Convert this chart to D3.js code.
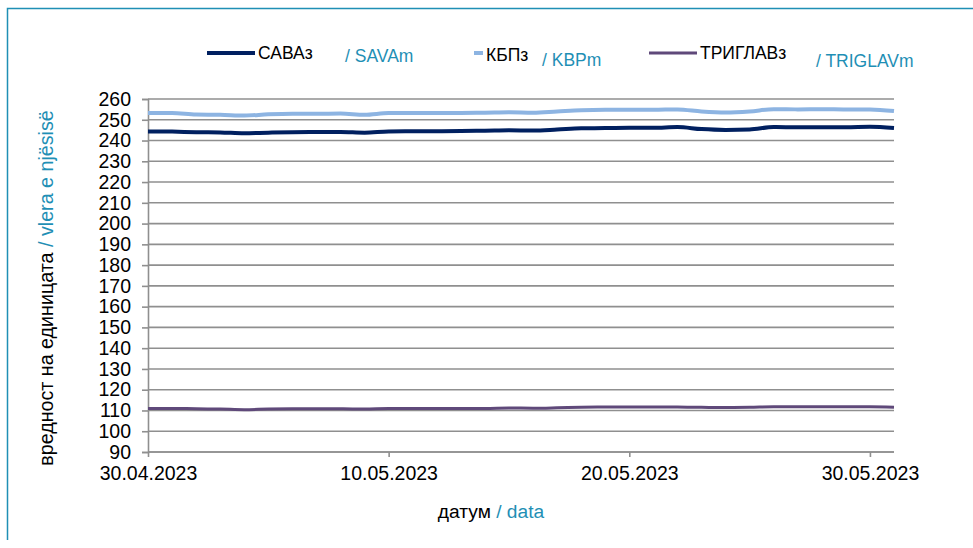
<!DOCTYPE html>
<html>
<head>
<meta charset="utf-8">
<script src="https://cdn.jsdelivr.net/npm/d3@7"></script>
<style>
  html, body { margin: 0; padding: 0; background: #fff; }
  svg { display: block; font-family: "Liberation Sans", Arial, sans-serif; }
</style>
</head>
<body>
<svg id="chart" width="973" height="548"></svg>
<script>
// ---- data ----
const dates = ["2023-04-30","2023-05-01","2023-05-02","2023-05-03","2023-05-04","2023-05-05","2023-05-06","2023-05-07",
  "2023-05-08","2023-05-09","2023-05-10","2023-05-11","2023-05-12","2023-05-13","2023-05-14","2023-05-15",
  "2023-05-16","2023-05-17","2023-05-18","2023-05-19","2023-05-20","2023-05-21","2023-05-22","2023-05-23",
  "2023-05-24","2023-05-25","2023-05-26","2023-05-27","2023-05-28","2023-05-29","2023-05-30","2023-05-31"];
const sava = [244.4,244.3,244.0,243.9,243.5,243.8,244.0,244.1,244.1,243.8,244.4,244.5,244.5,244.6,244.7,244.9,
  244.8,245.3,245.9,246.0,246.1,246.1,246.5,245.5,245.1,245.3,246.5,246.4,246.4,246.4,246.6,246.0];
const kbp = [253.3,253.3,252.5,252.4,252.0,252.6,252.9,252.9,253.0,252.4,253.2,253.2,253.2,253.3,253.4,253.6,
  253.4,254.0,254.6,254.8,254.8,254.8,255.0,254.0,253.5,254.0,255.1,255.0,255.1,255.0,255.0,254.2];
const triglav = [111.0,111.0,110.8,110.7,110.4,110.7,110.8,110.8,110.8,110.7,110.9,110.9,110.9,111.0,111.0,111.2,
  111.1,111.3,111.6,111.7,111.7,111.7,111.7,111.5,111.4,111.5,111.8,111.8,111.8,111.8,111.8,111.6];
const xTickDates = ["2023-04-30","2023-05-10","2023-05-20","2023-05-30"];
const xTickLabels = ["30.04.2023","10.05.2023","20.05.2023","30.05.2023"];
const yTicks = [90,100,110,120,130,140,150,160,170,180,190,200,210,220,230,240,250,260];
const seriesNames = [["САВАз","/ SAVAm"],["КБПз","/ KBPm"],["ТРИГЛАВз","/ TRIGLAVm"]];
const yTitle = ["вредност на единицата ", "/ vlera e njësisë"];
const xTitle = ["датум ", "/ data"];

// ---- styles ----
const colors = ["#002060", "#8db4e2", "#5f497a"];
const widths = [4, 4, 3];
const teal = "#1f8fb5";
const gridColor = "#8f8f8f";
const axisFont = 19.5;

const svg = d3.select("#chart");
const parse = d3.utcParse("%Y-%m-%d");
const xDates = dates.map(parse);

const plot = {left: 148, right: 894, top: 99, bottom: 452};
const x = d3.scaleUtc().domain([parse("2023-04-30"), parse("2023-05-31")]).range([plot.left, plot.right]);
const y = d3.scaleLinear().domain([90, 260]).range([plot.bottom, plot.top]);

// frame
svg.append("path")
  .attr("d", "M7.5,540 L7.5,8.5 L980,8.5")
  .attr("fill", "none").attr("stroke", teal).attr("stroke-width", 1.5);

// grid lines
svg.append("g").selectAll("line").data(yTicks).join("line")
  .attr("x1", plot.left).attr("x2", plot.right)
  .attr("y1", d => y(d)).attr("y2", d => y(d))
  .attr("stroke", gridColor).attr("stroke-width", 1.6);

// y axis
const yAxis = svg.append("g").attr("transform", `translate(${plot.left},0)`)
  .call(d3.axisLeft(y).tickValues(yTicks).tickSize(6).tickPadding(11).tickFormat(d3.format("d")));
yAxis.select(".domain").attr("stroke", gridColor).attr("stroke-width", 1.6);
yAxis.selectAll(".tick line").attr("stroke", gridColor).attr("stroke-width", 1.6);
yAxis.selectAll(".tick text").attr("font-size", axisFont).attr("fill", "#000").attr("font-family", "Liberation Sans, Arial, sans-serif");

// x axis
const xAxis = svg.append("g").attr("transform", `translate(0,${plot.bottom})`)
  .call(d3.axisBottom(x).tickValues(xTickDates.map(parse)).tickSize(5).tickPadding(9)
    .tickFormat((d, i) => xTickLabels[i]));
xAxis.select(".domain").attr("stroke", gridColor).attr("stroke-width", 1.6).attr("d", `M${plot.left},0H${plot.right}`);
xAxis.selectAll(".tick line").attr("stroke", gridColor).attr("stroke-width", 1.6);
xAxis.selectAll(".tick text").attr("font-size", axisFont).attr("fill", "#000").attr("font-family", "Liberation Sans, Arial, sans-serif");

// lines
const line = d3.line().x((d, i) => x(xDates[i])).y(d => y(d)).curve(d3.curveMonotoneX);
[sava, kbp, triglav].forEach((s, k) => {
  svg.append("path").datum(s).attr("d", line)
    .attr("fill", "none").attr("stroke", colors[k]).attr("stroke-width", widths[k])
    .attr("stroke-linejoin", "round");
});

// legend
const legendItems = [
  {x1: 207, x2: 255, tx: 258, sx: 345, ty: 59, sy: 62},
  {x1: 474, x2: 483, tx: 486, sx: 542, ty: 61, sy: 66},
  {x1: 649, x2: 697, tx: 700, sx: 816, ty: 59, sy: 67}
];
const lg = svg.append("g");
legendItems.forEach((p, k) => {
  lg.append("line").attr("x1", p.x1).attr("x2", p.x2).attr("y1", 53).attr("y2", 53)
    .attr("stroke", colors[k]).attr("stroke-width", widths[k]);
  lg.append("text").attr("x", p.tx).attr("y", p.ty).attr("font-size", 17.5).attr("fill", "#000").text(seriesNames[k][0]);
  lg.append("text").attr("x", p.sx).attr("y", p.sy).attr("font-size", 17.5).attr("fill", teal).text(seriesNames[k][1]);
});

// y title
const yt = svg.append("text").attr("transform", "translate(53,288) rotate(-90)")
  .attr("text-anchor", "middle").attr("font-size", 19.7);
yt.append("tspan").attr("fill", "#000").text(yTitle[0]);
yt.append("tspan").attr("fill", teal).text(yTitle[1]);

// x title
const xt = svg.append("text").attr("x", 491).attr("y", 518).attr("text-anchor", "middle").attr("font-size", 19.2);
xt.append("tspan").attr("fill", "#000").text(xTitle[0]);
xt.append("tspan").attr("fill", teal).text(xTitle[1]);
</script>
</body>
</html>
